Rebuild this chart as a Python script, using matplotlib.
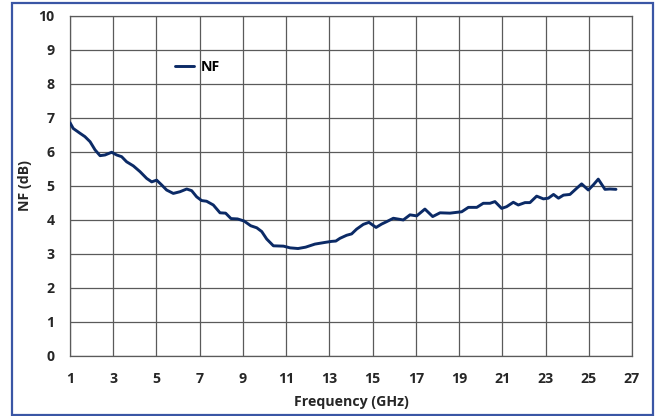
import matplotlib
matplotlib.use("Agg")
import matplotlib.pyplot as plt
from matplotlib.patches import Rectangle

# Noise figure vs frequency
freq_ghz = [1.00, 1.15, 1.46, 1.69, 1.93, 2.16, 2.39, 2.62, 2.93, 3.16, 3.39, 3.62,
            3.93, 4.24, 4.55, 4.78, 5.01, 5.24, 5.47, 5.78, 6.09, 6.40, 6.63, 6.86,
            7.09, 7.32, 7.63, 7.94, 8.20, 8.45, 8.75, 9.05, 9.36, 9.64, 9.87, 10.10,
            10.41, 10.88, 11.18, 11.55, 11.90, 12.33, 12.80, 13.10, 13.30, 13.49,
            13.80, 14.03, 14.26, 14.57, 14.83, 14.96, 15.16, 15.42, 15.65, 15.96,
            16.42, 16.73, 17.04, 17.42, 17.78, 18.12, 18.58, 18.97, 19.12, 19.43,
            19.82, 20.12, 20.43, 20.66, 20.97, 21.20, 21.51, 21.74, 22.05, 22.28,
            22.59, 22.90, 23.13, 23.37, 23.60, 23.83, 24.13, 24.44, 24.67, 24.98,
            25.21, 25.44, 25.75, 25.98, 26.26]
nf_db = [6.85, 6.68, 6.54, 6.44, 6.29, 6.05, 5.88, 5.90, 5.98, 5.90, 5.85, 5.70,
         5.58, 5.41, 5.21, 5.11, 5.16, 5.02, 4.87, 4.77, 4.82, 4.90, 4.85, 4.67,
         4.56, 4.54, 4.43, 4.20, 4.19, 4.03, 4.02, 3.96, 3.82, 3.76, 3.65, 3.43,
         3.23, 3.22, 3.17, 3.15, 3.19, 3.28, 3.33, 3.36, 3.37, 3.45,
         3.54, 3.58, 3.72, 3.86, 3.92, 3.86, 3.77, 3.87, 3.94, 4.04,
         3.99, 4.14, 4.11, 4.31, 4.09, 4.20, 4.19, 4.22, 4.23, 4.36,
         4.36, 4.48, 4.48, 4.53, 4.33, 4.38, 4.51, 4.43, 4.50, 4.50,
         4.69, 4.61, 4.63, 4.74, 4.63, 4.72, 4.74, 4.92, 5.05, 4.87,
         5.02, 5.19, 4.89, 4.90, 4.89]

x_ticks = list(range(1, 28, 2))
y_ticks = list(range(0, 11))

plt.rcParams['font.family'] = ['Open Sans', 'DejaVu Sans']
FS = 10.2

fig = plt.figure(figsize=(6.59, 4.16), dpi=100)
ax = fig.add_axes([0.1062, 0.145, 0.8528, 0.8177])

ax.plot(freq_ghz, nf_db, color='#0b2a66', linewidth=2.1, label='NF',
        solid_capstyle='round', solid_joinstyle='round', zorder=3)

ax.set_xlim(1, 27)
ax.set_ylim(0, 10)
ax.set_xticks(x_ticks)
ax.set_yticks(y_ticks)
ax.tick_params(length=0, labelsize=FS)
ax.tick_params(axis='x', pad=12)
ax.tick_params(axis='y', pad=11)
for lbl in ax.get_xticklabels() + ax.get_yticklabels():
    lbl.set_fontweight('bold')
    lbl.set_color('#262626')

ax.grid(True, color='#5a5a5a', linewidth=0.9)
for s in ax.spines.values():
    s.set_color('#5a5a5a')
    s.set_linewidth(0.9)

ax.set_xlabel('Frequency (GHz)', fontsize=FS, fontweight='bold', color='#262626',
              labelpad=6)
ax.set_ylabel('NF (dB)', fontsize=FS, fontweight='bold', color='#262626',
              labelpad=5)

ax.legend(loc='center left', bbox_to_anchor=(0.165, 0.85), frameon=False,
          handlelength=1.3, handletextpad=0.45,
          prop={'weight': 'bold', 'size': FS})

# Outer frame around the chart
fig.patches.append(Rectangle((0.0182, 0.0024), 0.9727, 0.9904,
                             transform=fig.transFigure, fill=False,
                             edgecolor='#3a56a5', linewidth=1.6))

fig.savefig('out.png', dpi=100)
